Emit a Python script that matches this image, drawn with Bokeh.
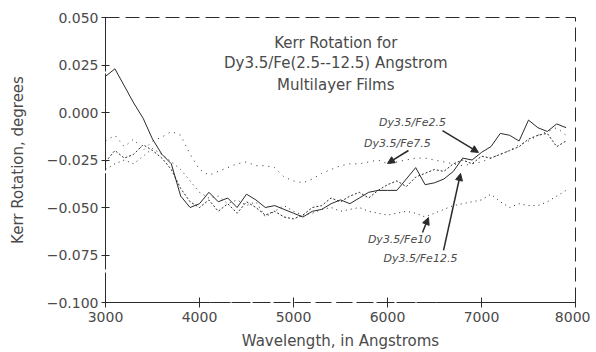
from bokeh.plotting import figure
from bokeh.models import Range1d, FixedTicker, CustomJSTickFormatter, Label, Arrow, NormalHead
from bokeh.embed import file_html
from bokeh.resources import INLINE

# ---- data ----
wavelength = [3000, 3100, 3200, 3300, 3400, 3500, 3600, 3700, 3800, 3900,
              4000, 4100, 4200, 4300, 4400, 4500, 4600, 4700, 4800, 4900,
              5000, 5100, 5200, 5300, 5400, 5500, 5600, 5700, 5800, 5900,
              6000, 6100, 6200, 6300, 6400, 6500, 6600, 6700, 6800, 6900,
              7000, 7100, 7200, 7300, 7400, 7500, 7600, 7700, 7800, 7900]

fe12_5 = [0.019, 0.023, 0.014, 0.005, -0.003, -0.014, -0.022, -0.027, -0.044, -0.050,
          -0.048, -0.042, -0.047, -0.045, -0.050, -0.043, -0.046, -0.050, -0.049, -0.051,
          -0.053, -0.055, -0.052, -0.051, -0.048, -0.046, -0.048, -0.045, -0.042, -0.041,
          -0.041, -0.041, -0.035, -0.029, -0.038, -0.037, -0.035, -0.031, -0.024, -0.025,
          -0.021, -0.018, -0.011, -0.012, -0.015, -0.004, -0.008, -0.010, -0.006, -0.008]

fe2_5 = [-0.026, -0.020, -0.024, -0.022, -0.017, -0.020, -0.024, -0.030, -0.040, -0.047,
         -0.050, -0.046, -0.052, -0.048, -0.053, -0.047, -0.050, -0.054, -0.052, -0.055,
         -0.056, -0.054, -0.050, -0.049, -0.045, -0.047, -0.044, -0.042, -0.045, -0.041,
         -0.038, -0.036, -0.039, -0.034, -0.032, -0.030, -0.031, -0.027, -0.025, -0.027,
         -0.023, -0.024, -0.022, -0.020, -0.018, -0.014, -0.012, -0.011, -0.018, -0.015]

fe7_5 = [-0.015, -0.012, -0.018, -0.014, -0.020, -0.015, -0.013, -0.010, -0.012, -0.022,
         -0.030, -0.033, -0.031, -0.029, -0.027, -0.026, -0.028, -0.028, -0.029, -0.034,
         -0.036, -0.037, -0.035, -0.032, -0.030, -0.028, -0.027, -0.027, -0.026, -0.025,
         -0.027, -0.026, -0.025, -0.024, -0.024, -0.025, -0.026, -0.027, -0.028, -0.027,
         -0.026, -0.024, -0.022, -0.020, -0.017, -0.015, -0.012, -0.010, -0.008, -0.012]

fe10 = [-0.030, -0.027, -0.025, -0.027, -0.023, -0.019, -0.022, -0.026, -0.030, -0.036,
        -0.042, -0.045, -0.044, -0.048, -0.046, -0.049, -0.047, -0.055, -0.052, -0.049,
        -0.052, -0.054, -0.053, -0.051, -0.050, -0.052, -0.051, -0.050, -0.052, -0.053,
        -0.054, -0.053, -0.052, -0.053, -0.055, -0.053, -0.051, -0.049, -0.048, -0.047,
        -0.046, -0.043, -0.047, -0.050, -0.048, -0.049, -0.049, -0.047, -0.044, -0.041]

x_ticks = [3000, 4000, 5000, 6000, 7000, 8000]
y_ticks = [-0.100, -0.075, -0.050, -0.025, 0.000, 0.025, 0.050]

title_lines = ["Kerr Rotation for", "Dy3.5/Fe(2.5--12.5) Angstrom", "Multilayer Films"]
title_y = [0.0368, 0.0258, 0.0147]
title_x = 5450

# annotation: label text, label position, arrow start, arrow end (data coords)
ann_text = ["Dy3.5/Fe2.5", "Dy3.5/Fe7.5", "Dy3.5/Fe10", "Dy3.5/Fe12.5"]
ann_lx = [6266, 6106, 6128, 6351]
ann_ly = [-0.0053, -0.0163, -0.0668, -0.0768]
arr_x0 = [6585, 6223, 6372, 6596]
arr_y0 = [-0.0095, -0.0200, -0.0632, -0.0726]
arr_x1 = [6968, 6000, 6436, 6777]
arr_y1 = [-0.0210, -0.0268, -0.0553, -0.0321]

FONT = "DejaVu Sans"
TXT = "#4a4a4a"
INK = "#2a2a2a"

p = figure(width=590, height=352, output_backend="svg", toolbar_location=None,
           x_range=Range1d(3000, 8000), y_range=Range1d(-0.1, 0.05),
           min_border_left=105, min_border_right=15, min_border_top=17, min_border_bottom=50)

p.xgrid.visible = False
p.ygrid.visible = False
p.outline_line_color = INK
p.outline_line_dash = "14 6"
p.outline_line_width = 1

p.line(wavelength, fe12_5, line_color=INK, line_width=1)
p.line(wavelength, fe2_5, line_color=INK, line_width=1, line_dash="2 2")
p.line(wavelength, fe7_5, line_color=INK, line_width=1, line_dash="1 5")
p.line(wavelength, fe10, line_color=INK, line_width=1, line_dash="1 4")

# axes
p.xaxis.ticker = FixedTicker(ticks=x_ticks)
p.yaxis.ticker = FixedTicker(ticks=y_ticks)
p.yaxis.formatter = CustomJSTickFormatter(code="""
    const s = Math.abs(tick).toFixed(3);
    return tick < -1e-9 ? "\u2212" + s : s;
""")
for ax in (p.xaxis[0], p.yaxis[0]):
    ax.axis_line_color = INK
    ax.major_tick_line_color = INK
    ax.minor_tick_line_color = None
    ax.major_tick_in = 5
    ax.major_tick_out = 5
    ax.major_label_text_font = FONT
    ax.major_label_text_font_size = "14px"
    ax.major_label_text_color = TXT
    ax.axis_label_text_font = FONT
    ax.axis_label_text_font_size = "15px"
    ax.axis_label_text_font_style = "normal"
    ax.axis_label_text_color = TXT
p.xaxis.axis_line_dash = "16 5"
p.yaxis.axis_line_dash = "30 3"
p.xaxis.major_label_standoff = 4
p.xaxis.axis_label_standoff = 7
p.yaxis.major_label_standoff = 3
p.yaxis.axis_label_standoff = 17
p.yaxis.major_tick_out = 4
p.yaxis.major_tick_in = 4
p.xaxis.axis_label = "Wavelength, in Angstroms"
p.yaxis.axis_label = "Kerr Rotation, degrees"

for t, ty in zip(title_lines, title_y):
    p.add_layout(Label(x=title_x, y=ty, text=t, text_align="center", text_baseline="middle",
                       text_font=FONT, text_font_size="15px", text_color=TXT))

for t, lx, ly, x0, y0, x1, y1 in zip(ann_text, ann_lx, ann_ly, arr_x0, arr_y0, arr_x1, arr_y1):
    p.add_layout(Label(x=lx, y=ly, text=t, text_align="center", text_baseline="middle",
                       text_font=FONT, text_font_size="11px", text_font_style="italic",
                       text_color=TXT))
    p.add_layout(Arrow(x_start=x0, y_start=y0, x_end=x1, y_end=y1,
                       line_color=INK, line_width=1.5,
                       end=NormalHead(size=7, fill_color=INK, line_color=INK)))

open("out.html", "w").write(file_html(p, INLINE))
